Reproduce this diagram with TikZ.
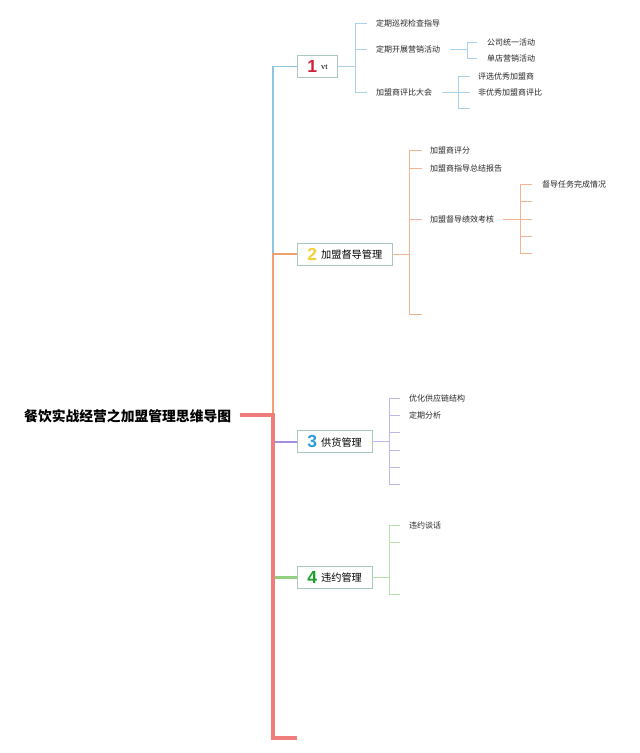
\documentclass[tikz,border=0pt]{standalone}
\usepackage{fontspec}
\setmainfont{Noto Sans CJK SC}
\newfontfamily\digitfont{Liberation Sans}
\newfontfamily\vtfont{Liberation Serif}
\definecolor{blueL}{HTML}{8EC5E0}
\definecolor{orangeL}{HTML}{F0A070}
\definecolor{redL}{HTML}{F07C7C}
\definecolor{purpleL}{HTML}{A58DE0}
\definecolor{greenL}{HTML}{90D080}
\definecolor{blueC}{HTML}{A9D2EA}
\definecolor{orangeC}{HTML}{F5B391}
\definecolor{purpleC}{HTML}{C4B5EC}
\definecolor{greenC}{HTML}{B9E2B0}
\definecolor{boxc}{HTML}{A8C8C0}
\definecolor{dOne}{HTML}{D41F3A}
\definecolor{dTwo}{HTML}{F2D03C}
\definecolor{dThree}{HTML}{2E9AD8}
\definecolor{dFour}{HTML}{1A9E2A}
\newcommand\numd[2]{{\digitfont\bfseries\fontsize{17.5}{18}\selectfont\textcolor{#1}{#2}}}
\newcommand\toptext[1]{\raisebox{1.5pt}{#1}}
\begin{document}
\begin{tikzpicture}[x=1pt,y=-1pt,
  leaf/.style={anchor=west,inner sep=0pt,font=\fontsize{8}{9}\selectfont,text=black!85},
  topic/.style={draw=boxc,line width=0.8pt,fill=white,minimum height=22pt,inner xsep=10pt,inner ysep=0pt,anchor=west,font=\fontsize{10.2}{12}\selectfont},
  thinB/.style={draw=blueC,line width=0.9pt},
  thinO/.style={draw=orangeC,line width=0.9pt},
  thinP/.style={draw=purpleC,line width=0.9pt},
  thinG/.style={draw=greenC,line width=0.9pt}]
\useasboundingbox (0,0) rectangle (640,753);

% root
\node[anchor=west,inner sep=0pt,font=\fontsize{13.8}{16}\selectfont\bfseries] (root) at (24,416) {餐饮实战经营之加盟管理思维导图};
\coordinate (t) at (273,415);
\coordinate (rootend) at (297,738);

% topics
\node[topic] (n1) at (297,66.5) {\numd{dOne}{1}\hspace{4pt}\raisebox{3pt}{\vtfont\fontsize{8.5}{9}\selectfont vt}};
\node[topic] (n2) at (297,254) {\numd{dTwo}{2}\hspace{4pt}\toptext{加盟督导管理}};
\node[topic] (n3) at (297,441.5) {\numd{dThree}{3}\hspace{4pt}\toptext{供货管理}};
\node[topic] (n4) at (297,577) {\numd{dFour}{4}\hspace{4pt}\toptext{违约管理}};

% main branches
\draw[blueL,line width=1.5pt] (t |- n2.west) -- (t |- n1.west) -- (n1.west);
\draw[orangeL,line width=2pt] (t) -- (t |- n2.west) -- (n2.west);
\draw[purpleL,line width=2pt] (t |- n3.west) -- (n3.west);
\draw[greenL,line width=3pt] (t |- n4.west) -- (n4.west);
\draw[redL,line width=4pt] ([xshift=9pt]root.east |- t) -- (t) -- (t |- rootend) -- (rootend);

% branch 1
\coordinate (j1) at (355,66.5);
\node[leaf] (a1) at (376,23) {定期巡视检查指导};
\node[leaf] (a2) at (376,49) {定期开展营销活动};
\node[leaf] (a3) at (376,92) {加盟商评比大会};
\draw[thinB] (n1.east) -- (j1);
\draw[thinB] (j1 |- a1.west) -- (j1 |- a3.west);
\foreach \n in {a1,a2,a3} \draw[thinB] (j1 |- \n.west) -- ([xshift=-9pt]\n.west);
\node[leaf] (a21) at (487,42) {公司统一活动};
\node[leaf] (a22) at (487,58) {单店营销活动};
\coordinate (j2) at (467,49);
\draw[thinB] ([xshift=10pt]a2.east) -- (j2);
\draw[thinB] (j2 |- a21.west) -- (j2 |- a22.west);
\foreach \n in {a21,a22} \draw[thinB] (j2 |- \n.west) -- ([xshift=-10pt]\n.west);
\node[leaf] (a31) at (478,76) {评选优秀加盟商};
\node[leaf] (a32) at (478,92) {非优秀加盟商评比};
\coordinate (a33) at (478,108);
\coordinate (j3) at (458,92);
\draw[thinB] ([xshift=10pt]a3.east) -- (j3);
\draw[thinB] (j3 |- a31.west) -- (j3 |- a33);
\foreach \n in {a31.west,a32.west,a33} \draw[thinB] (j3 |- \n) -- ([xshift=-8pt]\n);

% branch 2
\coordinate (k1) at (409,254);
\node[leaf] (b1) at (430,150) {加盟商评分};
\node[leaf] (b2) at (430,168) {加盟商指导总结报告};
\node[leaf] (b3) at (430,219) {加盟督导绩效考核};
\coordinate (b4) at (430,314);
\draw[thinO] (n2.east) -- (k1);
\draw[thinO] (k1 |- b1.west) -- (k1 |- b4);
\foreach \n in {b1.west,b2.west,b3.west,b4} \draw[thinO] (k1 |- \n) -- ([xshift=-8pt]\n);
\coordinate (k2) at (520,219);
\node[leaf] (b31) at (542,184) {督导任务完成情况};
\coordinate (b32) at (542,201.5);
\coordinate (b33) at (542,219);
\coordinate (b34) at (542,236);
\coordinate (b35) at (542,253);
\draw[thinO] ([xshift=9pt]b3.east) -- (k2);
\draw[thinO] (k2 |- b31.west) -- (k2 |- b35);
\foreach \n in {b31.west,b32,b33,b34,b35} \draw[thinO] (k2 |- \n) -- ([xshift=-10pt]\n);

% branch 3
\coordinate (m1) at (389,441.5);
\node[leaf] (c1) at (409,398) {优化供应链结构};
\node[leaf] (c2) at (409,415) {定期分析};
\coordinate (c3) at (409,432.5);
\coordinate (c4) at (409,450);
\coordinate (c5) at (409,467);
\coordinate (c6) at (409,484);
\draw[thinP] (n3.east) -- (m1);
\draw[thinP] (m1 |- c1.west) -- (m1 |- c6);
\foreach \n in {c1.west,c2.west,c3,c4,c5,c6} \draw[thinP] (m1 |- \n) -- ([xshift=-9pt]\n);

% branch 4
\coordinate (p1) at (389,577);
\node[leaf] (d1) at (409,525) {违约谈话};
\coordinate (d2) at (409,542);
\coordinate (d3) at (409,594);
\draw[thinG] (n4.east) -- (p1);
\draw[thinG] (p1 |- d1.west) -- (p1 |- d3);
\foreach \n in {d1.west,d2,d3} \draw[thinG] (p1 |- \n) -- ([xshift=-9pt]\n);
\end{tikzpicture}
\end{document}
